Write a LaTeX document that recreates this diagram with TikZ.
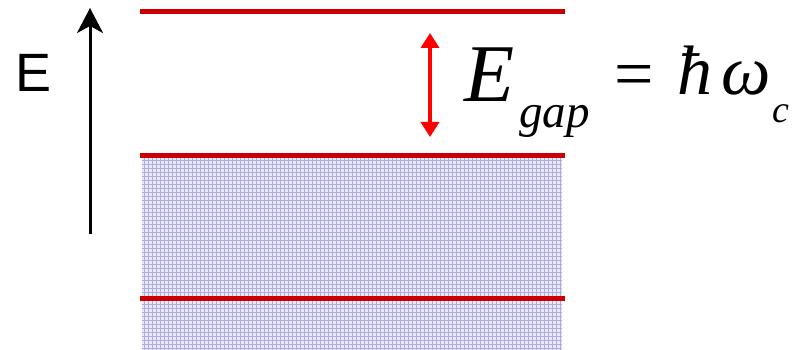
\documentclass[tikz,border=0pt]{standalone}
\usepackage{fontspec}
\setmainfont{Liberation Serif}
\setsansfont{Liberation Sans}
\usetikzlibrary{arrows.meta}
\definecolor{levelred}{RGB}{204,0,0}
\definecolor{gapred}{RGB}{255,0,0}
\definecolor{bandfill}{RGB}{232,232,246}
\definecolor{bandgrid}{RGB}{172,172,222}
\tikzset{
  level/.style={draw=levelred, line width=5pt},
  eqbig/.style={inner sep=0pt, anchor=base west, font=\fontsize{82}{82}\selectfont\itshape},
  eqmid/.style={inner sep=0pt, anchor=base west, font=\fontsize{70}{70}\selectfont\itshape},
  eqsub/.style={inner sep=0pt, anchor=base west, font=\fontsize{47}{47}\selectfont\itshape},
  eqsubc/.style={inner sep=0pt, anchor=base west, font=\fontsize{38}{38}\selectfont\itshape},
}
\begin{document}
\begin{tikzpicture}[x=1pt,y=-1pt]
\useasboundingbox (0,0) rectangle (805,350);
% band
\fill[bandfill] (142,158) rectangle (562,350);
\begin{scope}
\clip (142,158) rectangle (562,350);
\draw[bandgrid, line width=0.5pt, step=4pt] (142,158) grid (562,350);
\end{scope}
% levels
\coordinate (l1a) at (140,12); \coordinate (l1b) at (565,12);
\coordinate (l2a) at (140,155); \coordinate (l2b) at (565,155);
\coordinate (l3a) at (140,298); \coordinate (l3b) at (565,298);
\draw[level] (l1a) -- (l1b);
\draw[level] (l2a) -- (l2b);
\draw[level] (l3a) -- (l3b);
% energy axis
\coordinate (axb) at (90,234);
\coordinate (axt) at (90,8);
\draw[line width=3pt, -{Stealth[length=25pt,width=26pt,inset=7pt]}] (axb) -- (axt);
\node[inner sep=0pt, font=\fontsize{54}{54}\selectfont\sffamily] (elabel) at (34,73) {E};
% gap arrow
\coordinate (gt) at (430,33);
\coordinate (gb) at (430,137);
\draw[gapred, line width=4pt, {Triangle[length=15pt,width=18pt]}-{Triangle[length=15pt,width=18pt]}] (gb) -- (gt);
% equation
\node[eqbig] (eE) at (464,102) {E};
\node[eqsub] (egap) at (519,128) {gap};
\node[inner sep=0pt, anchor=base west, font=\fontsize{70}{70}\selectfont] (eeq) at (614,98) {=};
\node[eqmid] (ehbar) at (677,95) {ħ};
\node[eqmid] (eomega) at (721,95) {ω};
\node[eqsubc] (ec) at (772,122) {c};
\end{tikzpicture}
\end{document}
